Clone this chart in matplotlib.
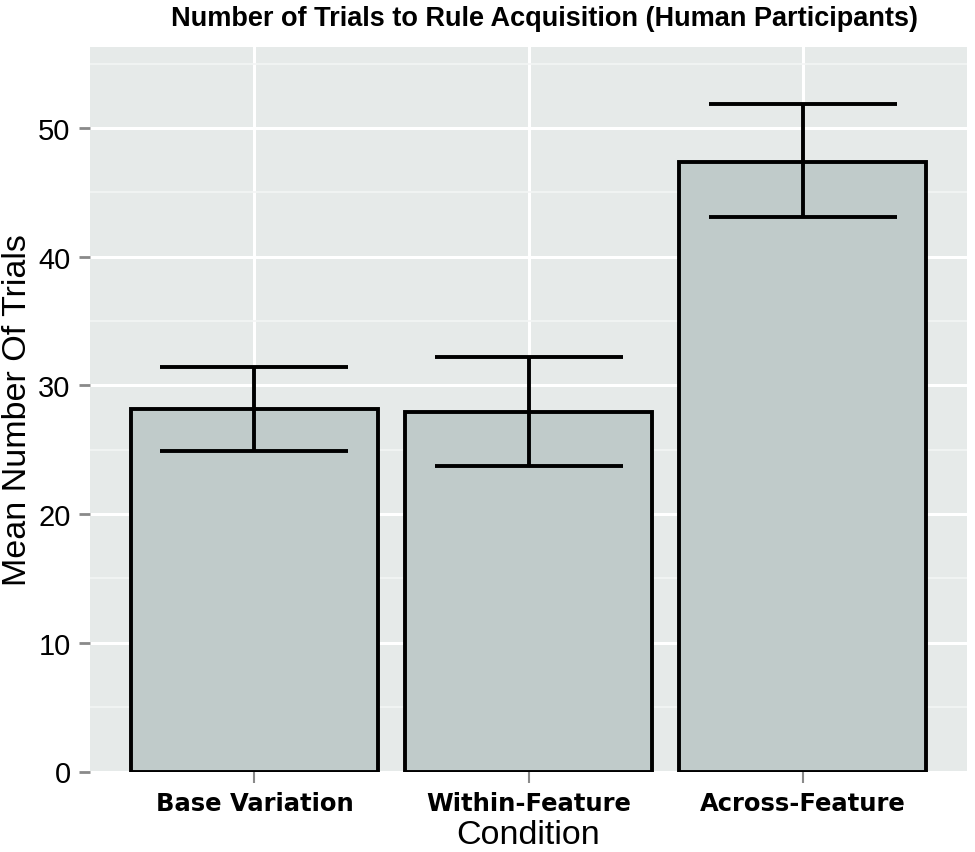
import matplotlib
matplotlib.use("Agg")
import matplotlib.pyplot as plt
from matplotlib.ticker import MultipleLocator
import numpy as np

categories = ["Base Variation", "Within-Feature", "Across-Feature"]
means = [28.17, 27.9, 47.38]
err_low = [24.9, 23.71, 43.06]
err_high = [31.45, 32.18, 51.86]
yticks = [0, 10, 20, 30, 40, 50]

title = "Number of Trials to Rule Acquisition (Human Participants)"
xlabel = "Condition"
ylabel = "Mean Number Of Trials"

bg = "#E6EAE9"
bar_fill = "#C0CBCA"

fig = plt.figure(figsize=(9.75, 8.53), dpi=100)
ax = fig.add_axes([90/975, (853-772.5)/853, (967-90)/975, (772.5-48)/853])
ax.set_facecolor(bg)
for s in ax.spines.values():
    s.set_visible(False)

x = np.arange(len(categories))
ax.set_xlim(-0.6, 2.6)
ax.set_ylim(0, 56.3)

ax.yaxis.set_major_locator(MultipleLocator(10))
ax.yaxis.set_minor_locator(MultipleLocator(5))
ax.set_yticks(yticks)
ax.grid(which="major", axis="both", color="white", linewidth=2.2, zorder=0)
ax.grid(which="minor", axis="y", color="#F3F5F5", linewidth=1.2, zorder=0)
ax.set_axisbelow(True)

ax.bar(x, means, width=0.9, color=bar_fill, edgecolor="black", linewidth=2.8, zorder=2)
lo = np.array(means) - np.array(err_low)
hi = np.array(err_high) - np.array(means)
ax.errorbar(x, means, yerr=[lo, hi], fmt="none", ecolor="black", elinewidth=2.8,
            capsize=68, capthick=2.8, zorder=3)

ax.set_xticks(x)
ax.set_xticklabels(categories, fontsize=17.5, fontweight="heavy", family="DejaVu Sans")
ax.tick_params(axis="x", which="major", length=8, width=1.5, color="#8A8A8A", pad=6)
ax.tick_params(axis="y", which="major", length=8, width=2, color="#8A8A8A", pad=6,
               labelsize=21)
ax.tick_params(axis="y", which="minor", length=0)
for lbl in ax.get_yticklabels():
    lbl.set_family("Liberation Sans")

ax.set_xlabel(xlabel, fontsize=24.5, family="Liberation Sans", labelpad=3)
ax.set_ylabel(ylabel, fontsize=24.5, family="Liberation Sans")
ax.yaxis.set_label_coords(-57/877, 0.5)

fig.text(0.558, 0.978, title, ha="center", va="center", fontsize=19.5,
         fontweight="bold", family=["Liberation Sans Narrow", "Liberation Sans"])

fig.savefig("out.png", dpi=100, facecolor="white")
